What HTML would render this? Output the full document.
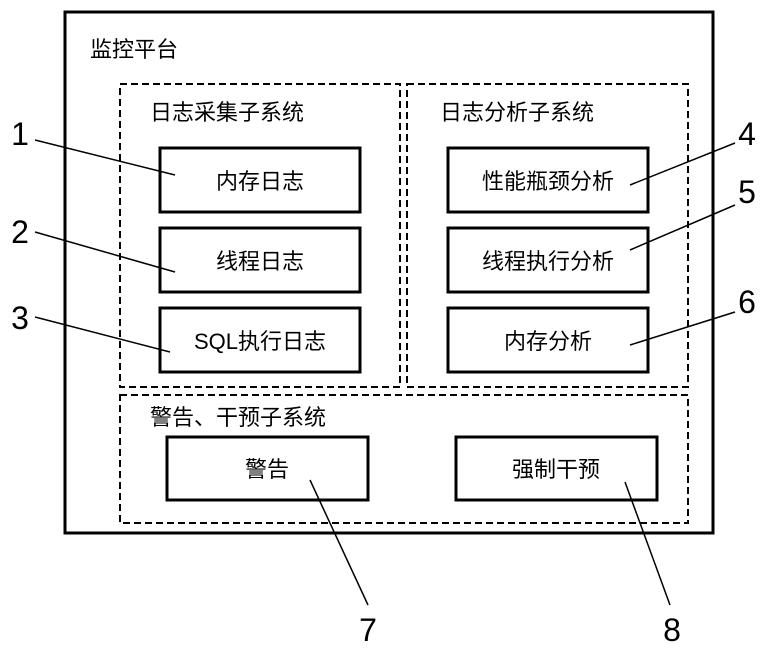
<!DOCTYPE html>
<html><head><meta charset="utf-8"><style>
body{margin:0;background:#fff;}
svg text{font-family:"Liberation Sans","Noto Sans CJK SC",sans-serif;fill:#000;}
</style></head><body>
<svg width="768" height="651" viewBox="0 0 768 651" xmlns="http://www.w3.org/2000/svg">
<rect x="65" y="12" width="648" height="521" fill="none" stroke="#000" stroke-width="3"/>
<text x="90" y="57" font-size="22">监控平台</text>
<g fill="none" stroke="#000" stroke-width="2" stroke-dasharray="7,4">
<rect x="120" y="84" width="280" height="303"/>
<rect x="407" y="84" width="281" height="303"/>
<rect x="120" y="395" width="568" height="128"/>
</g>
<text x="150" y="120" font-size="22">日志采集子系统</text>
<text x="440" y="120" font-size="22">日志分析子系统</text>
<text x="150" y="425" font-size="22">警告、干预子系统</text>
<g fill="none" stroke="#000" stroke-width="3">
<rect x="160" y="148" width="200" height="64"/>
<rect x="160" y="228" width="200" height="64"/>
<rect x="160" y="308" width="200" height="64"/>
<rect x="448" y="148" width="200" height="64"/>
<rect x="448" y="228" width="200" height="64"/>
<rect x="448" y="308" width="200" height="64"/>
<rect x="167" y="437" width="201" height="63"/>
<rect x="456" y="437" width="201" height="63"/>
</g>
<g font-size="22" text-anchor="middle">
<text x="260" y="189">内存日志</text>
<text x="260" y="269">线程日志</text>
<text x="260" y="349">SQL执行日志</text>
<text x="548" y="189">性能瓶颈分析</text>
<text x="548" y="269">线程执行分析</text>
<text x="548" y="349">内存分析</text>
<text x="267" y="477">警告</text>
<text x="556" y="477">强制干预</text>
</g>
<g stroke="#000" stroke-width="1.5">
<line x1="35" y1="140" x2="175" y2="175"/>
<line x1="35" y1="232" x2="175" y2="272"/>
<line x1="35" y1="317" x2="170" y2="352"/>
<line x1="735" y1="143" x2="630" y2="185"/>
<line x1="735" y1="205" x2="630" y2="250"/>
<line x1="735" y1="312" x2="630" y2="345"/>
<line x1="310" y1="480" x2="368" y2="605"/>
<line x1="625" y1="482" x2="670" y2="605"/>
</g>
<g font-size="32" text-anchor="middle">
<text x="20" y="145">1</text>
<text x="20" y="243">2</text>
<text x="20" y="329">3</text>
<text x="747" y="145">4</text>
<text x="747" y="203">5</text>
<text x="747" y="313">6</text>
<text x="368" y="641">7</text>
<text x="672" y="641">8</text>
</g>
</svg>
</body></html>
